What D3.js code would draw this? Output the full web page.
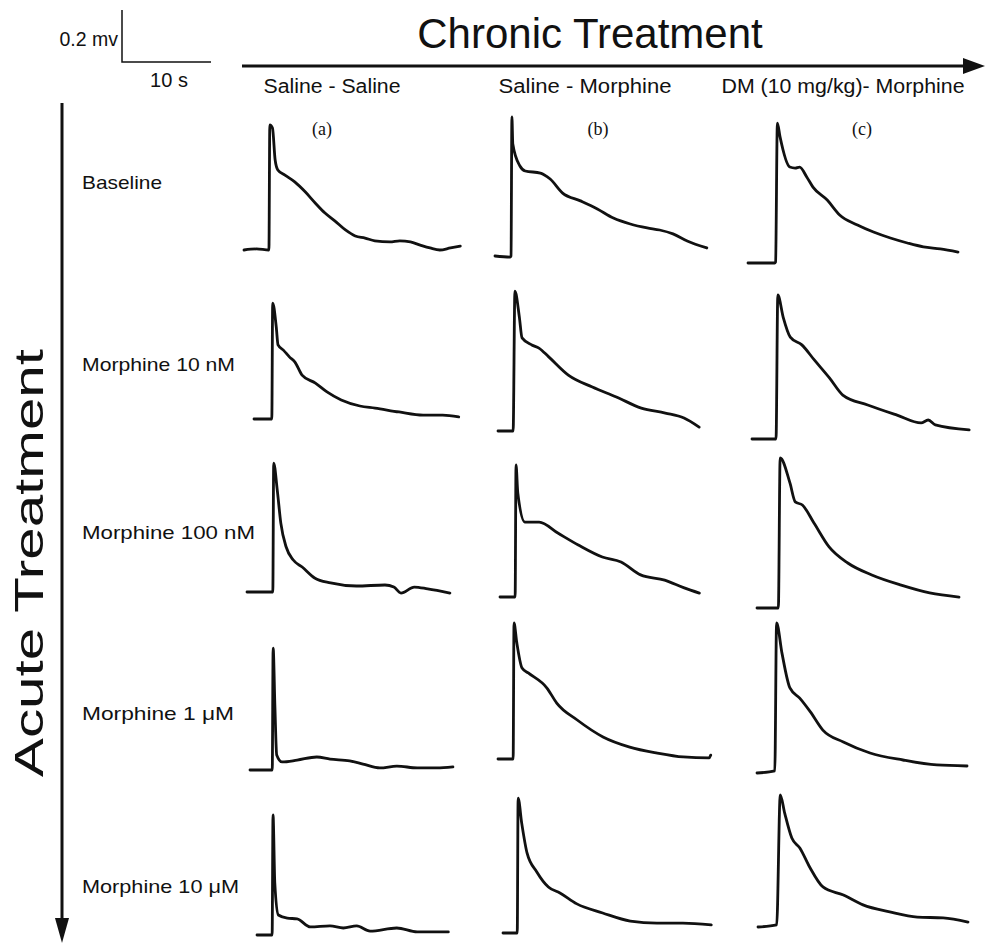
<!DOCTYPE html>
<html><head><meta charset="utf-8">
<script src="https://cdn.jsdelivr.net/npm/d3@7"></script>
<style>body{margin:0;background:#fff}svg{display:block}</style>
</head><body>
<script>
// ---- data (time in s from trace start, voltage in mV above baseline) ----
const columnLabels = ["Saline - Saline", "Saline - Morphine", "DM (10 mg/kg)- Morphine"];
const panelTags = ["(a)", "(b)", "(c)"];
const rowLabels = ["Baseline", "Morphine 10 nM", "Morphine 100 nM", "Morphine 1 \u03bcM", "Morphine 10 \u03bcM"];
const scaleBar = {mV: 0.2, s: 10, mvLabel: "0.2 mv", sLabel: "10 s"};

const baseline_a = [[0,0],[1.4,0.004],[2.8,0],[2.9,0.481],[3.2,0.469],[3.5,0.346],[3.8,0.308],[4.6,0.288],[5.7,0.262],[6.9,0.223],[8.0,0.181],[9.1,0.142],[10.2,0.112],[11.4,0.077],[12.5,0.054],[13.6,0.046],[14.7,0.035],[16.4,0.031],[17.5,0.035],[18.7,0.031],[19.8,0.019],[20.9,0.008],[22.0,0],[23.2,0.008],[24.3,0.015]];
const baseline_b = [[0,0],[1.7,-0.004],[1.8,0],[1.9,0.535],[2.0,0.431],[2.8,0.346],[3.4,0.327],[5.1,0.319],[6.2,0.296],[7.6,0.242],[9.6,0.212],[11.5,0.181],[13.3,0.146],[15.2,0.123],[17.1,0.108],[18.5,0.100],[20.0,0.085],[21.6,0.058],[23.8,0.031]];
const baseline_c = [[0,0],[3.0,0],[3.1,0.004],[3.3,0.538],[3.6,0.485],[4.7,0.369],[5.3,0.365],[5.8,0.369],[6.6,0.331],[7.3,0.292],[8.9,0.242],[10.3,0.185],[12.3,0.146],[14.1,0.119],[16.0,0.096],[17.9,0.077],[19.7,0.062],[21.6,0.054],[23.6,0.042]];

const m10nM_a = [[0,0],[2.0,0],[2.1,0.446],[2.5,0.354],[2.7,0.285],[3.3,0.265],[4.0,0.238],[4.6,0.219],[5.4,0.169],[6.9,0.138],[8.2,0.104],[9.8,0.073],[11.9,0.050],[13.6,0.042],[16.3,0.027],[19.0,0.015],[21.2,0.015],[23.0,0.008]];
const m10nM_b = [[0,0],[1.7,0],[1.9,0.538],[2.4,0.438],[2.7,0.358],[3.8,0.331],[4.6,0.319],[5.7,0.285],[7.9,0.215],[10.6,0.169],[13.3,0.131],[16.1,0.088],[18.8,0.069],[20.9,0.050],[22.6,0.015]];
const m10nM_c = [[0,0],[2.7,0],[2.9,0.554],[3.5,0.469],[4.3,0.392],[5.6,0.362],[7.0,0.304],[8.7,0.235],[10.2,0.169],[13.0,0.131],[16.3,0.092],[19.0,0.062],[19.8,0.073],[20.6,0.054],[24.4,0.035]];

const m100nM_a = [[0,0],[2.9,0],[3.0,0.496],[3.4,0.392],[3.8,0.265],[4.4,0.173],[5.2,0.123],[6.2,0.096],[7.6,0.054],[9.4,0.035],[12.3,0.023],[15.5,0.027],[16.5,0.019],[17.3,-0.004],[18.8,0.019],[20.3,0.012],[22.8,-0.004]];
const m100nM_b = [[0,0],[1.7,0],[1.8,0.508],[2.0,0.400],[2.8,0.288],[4.4,0.288],[6.5,0.246],[8.8,0.200],[11.5,0.154],[13.6,0.135],[15.8,0.085],[18.5,0.065],[20.7,0.035],[22.4,0.015]];
const m100nM_c = [[0,0],[2.4,0],[2.6,0.577],[3.7,0.481],[4.3,0.408],[5.1,0.396],[6.4,0.327],[8.1,0.235],[10.2,0.173],[12.9,0.127],[16.2,0.088],[19.4,0.058],[22.7,0.042]];

const m1uM_a = [[0,0],[2.5,0],[2.6,0.469],[2.8,0.242],[3.0,0.058],[3.6,0.031],[5.3,0.038],[7.5,0.050],[9.0,0.042],[11.2,0.035],[12.7,0.023],[14.6,0.008],[16.5,0.015],[18.8,0.008],[21.0,0.008],[22.8,0.012]];
const m1uM_b = [[0,0],[1.7,0],[1.8,0.523],[2.1,0.450],[2.7,0.350],[3.4,0.331],[5.5,0.273],[6.6,0.215],[8.9,0.150],[11.8,0.085],[14.8,0.046],[17.9,0.023],[20.8,0.008],[23.7,0.004],[23.9,0.015]];
const m1uM_c = [[0,0],[2.0,0.008],[2.2,0.577],[2.8,0.462],[3.7,0.327],[4.8,0.288],[6.0,0.235],[7.4,0.165],[9.7,0.119],[12.7,0.077],[16.4,0.050],[20.2,0.031],[23.6,0.027]];

const m10uM_a = [[0,0],[1.7,0],[1.8,0.462],[2.0,0.200],[2.4,0.077],[3.4,0.065],[4.5,0.062],[6.0,0.031],[8.2,0.035],[9.7,0.027],[11.2,0.035],[12.7,0.015],[15.7,0.027],[18.0,0.012],[21.5,0.012]];
const m10uM_b = [[0,0],[1.6,0],[1.7,0.519],[2.1,0.423],[2.7,0.308],[3.8,0.235],[5.1,0.177],[6.4,0.154],[8.3,0.112],[11.2,0.077],[14.3,0.046],[17.3,0.038],[20.2,0.038],[23.4,0.031]];
const m10uM_c = [[0,0],[2.1,0.008],[2.5,0.508],[3.0,0.438],[3.8,0.342],[4.7,0.304],[5.8,0.231],[7.3,0.154],[9.6,0.123],[11.8,0.085],[14.8,0.058],[17.9,0.038],[20.8,0.035],[23.6,0.019]];

const traces = [
  [baseline_a, baseline_b, baseline_c],
  [m10nM_a, m10nM_b, m10nM_c],
  [m100nM_a, m100nM_b, m100nM_c],
  [m1uM_a, m1uM_b, m1uM_c],
  [m10uM_a, m10uM_b, m10uM_c]
];

// ---- layout (pixels) ----
const W = 985, H = 945;
const origins = [
  [[244,250],[495,256],[748,263]],
  [[254,419],[498,431],[752,439]],
  [[247,592],[500,597],[757,608]],
  [[250,770],[498,759],[757,773]],
  [[257,935],[503,933],[758,927]]
];
const colHeaderX = [332, 585, 843];
const colHeaderW = [137, 173, 243];
const tagX = [322, 598, 862];
const rowLabelY = [189, 371, 539, 720, 893];
const rowLabelW = [80, 153, 173, 152, 157];

const svg = d3.select("body").append("svg").attr("width", W).attr("height", H);
const sans = "Liberation Sans, Arial, Helvetica, sans-serif";
const serif = "Liberation Serif, Times New Roman, serif";

const x = d3.scaleLinear().domain([0, 10]).range([0, 89]);
const y = d3.scaleLinear().domain([0, 0.2]).range([0, -52]);
const line = d3.line().x(d => x(d[0])).y(d => y(d[1])).curve(d3.curveMonotoneX);

// scale bar
const sb = svg.append("g").attr("transform", "translate(122,62)");
sb.append("path")
  .attr("d", `M0,${y(scaleBar.mV)}V0H${x(scaleBar.s)}`)
  .attr("fill", "none").attr("stroke", "#111").attr("stroke-width", 1.5);
svg.append("text").attr("x", 118).attr("y", 46).attr("text-anchor", "end")
  .attr("font-family", sans).attr("font-size", 19.5).attr("fill", "#111").text(scaleBar.mvLabel);
svg.append("text").attr("x", 169).attr("y", 87).attr("text-anchor", "middle")
  .attr("font-family", sans).attr("font-size", 20).attr("fill", "#111").text(scaleBar.sLabel);

// Chronic treatment arrow
svg.append("text").attr("x", 590).attr("y", 48).attr("text-anchor", "middle")
  .attr("font-family", sans).attr("font-size", 42).attr("fill", "#111").text("Chronic Treatment");
svg.append("line").attr("x1", 242).attr("x2", 968).attr("y1", 66).attr("y2", 66)
  .attr("stroke", "#111").attr("stroke-width", 3);
svg.append("path").attr("d", "M963,58L985,66L963,74Z").attr("fill", "#111");

// Acute treatment arrow
svg.append("line").attr("x1", 62).attr("x2", 62).attr("y1", 103).attr("y2", 922)
  .attr("stroke", "#111").attr("stroke-width", 3);
svg.append("path").attr("d", "M55,918L62,943L69,918Z").attr("fill", "#111");
svg.append("text").attr("transform", "translate(43,563) rotate(-90)")
  .attr("text-anchor", "middle").attr("font-family", sans).attr("font-size", 40)
  .attr("textLength", 428).attr("lengthAdjust", "spacingAndGlyphs")
  .attr("fill", "#111").text("Acute Treatment");

// column headers
columnLabels.forEach((c, i) => {
  svg.append("text").attr("x", colHeaderX[i]).attr("y", 93).attr("text-anchor", "middle")
    .attr("font-family", sans).attr("font-size", 19.5)
    .attr("textLength", colHeaderW[i]).attr("lengthAdjust", "spacingAndGlyphs")
    .attr("fill", "#111").text(c);
  svg.append("text").attr("x", tagX[i]).attr("y", 135).attr("text-anchor", "middle")
    .attr("font-family", serif).attr("font-size", 18).attr("fill", "#111").text(panelTags[i]);
});

// row labels
rowLabels.forEach((r, i) => {
  svg.append("text").attr("x", 82).attr("y", rowLabelY[i])
    .attr("font-family", sans).attr("font-size", 19)
    .attr("textLength", rowLabelW[i]).attr("lengthAdjust", "spacingAndGlyphs")
    .attr("fill", "#111").text(r);
});

// traces
traces.forEach((row, ri) => {
  row.forEach((tr, ci) => {
    const o = origins[ri][ci];
    svg.append("path")
      .attr("transform", `translate(${o[0]},${o[1]})`)
      .attr("d", line(tr))
      .attr("fill", "none").attr("stroke", "#111")
      .attr("stroke-width", 2.8).attr("stroke-linejoin", "round").attr("stroke-linecap", "round");
  });
});
</script>
</body></html>
